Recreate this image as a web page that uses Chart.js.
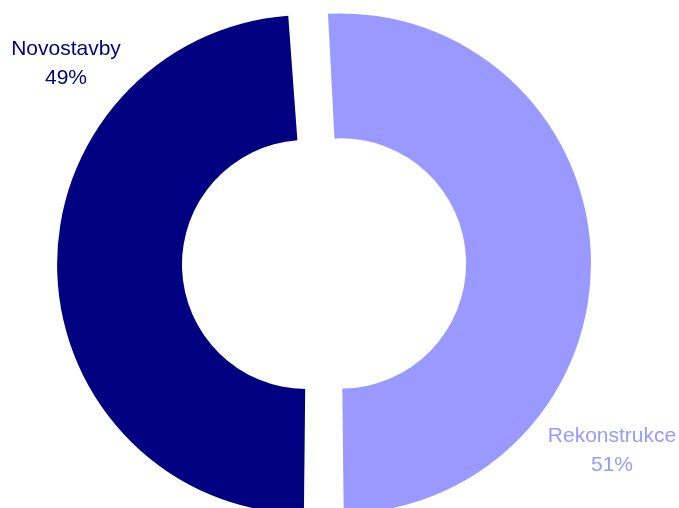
<!DOCTYPE html>
<html>
<head>
<meta charset="utf-8">
<script src="https://cdn.jsdelivr.net/npm/chart.js@4/dist/chart.umd.min.js"></script>
<style>
  html, body { margin: 0; padding: 0; background: #fff; }
  canvas { display: block; }
</style>
</head>
<body>
<canvas id="myChart" width="679" height="508"></canvas>
<script>
// podíl novostaveb a rekonstrukcí
const categories = ['Novostavby', 'Rekonstrukce'];
const shares = [49, 51];
const colors = ['#000080', '#9999FF'];

// popisky mimo prstenec: střed textu a účaří prvního řádku
const labelPos = [
    { x: 66, y: 55 },
    { x: 612, y: 442 }
];

const sliceLabels = {
    id: 'sliceLabels',
    afterDraw(chart) {
        const ctx = chart.ctx;
        const meta = chart.getDatasetMeta(0);
        ctx.save();
        ctx.font = '21px "Liberation Sans", Arial, sans-serif';
        ctx.textAlign = 'center';
        ctx.textBaseline = 'alphabetic';
        meta.data.forEach(function (arc, i) {
            const p = labelPos[i];
            ctx.fillStyle = colors[i];
            ctx.fillText(categories[i], p.x, p.y);
            ctx.fillText(shares[i] + '%', p.x, p.y + 29);
        });
        ctx.restore();
    }
};

// offset posune výseč o offset/4 a zároveň zvětší její poloměry,
// proto je radius a cutout o to menší
const ctx = document.getElementById('myChart').getContext('2d');
const myChart = new Chart(ctx, {
    type: 'doughnut',
    data: {
        labels: categories,
        datasets: [{
            data: shares,
            backgroundColor: colors,
            borderWidth: 0,
            offset: [70, 68]
        }]
    },
    options: {
        responsive: false,
        animation: false,
        rotation: 180,
        radius: 233,
        cutout: '46.4%',
        layout: { padding: { left: 0, right: 31, top: 20, bottom: 0 } },
        plugins: {
            legend: { display: false },
            tooltip: { enabled: false }
        }
    },
    plugins: [sliceLabels]
});
</script>
</body>
</html>
